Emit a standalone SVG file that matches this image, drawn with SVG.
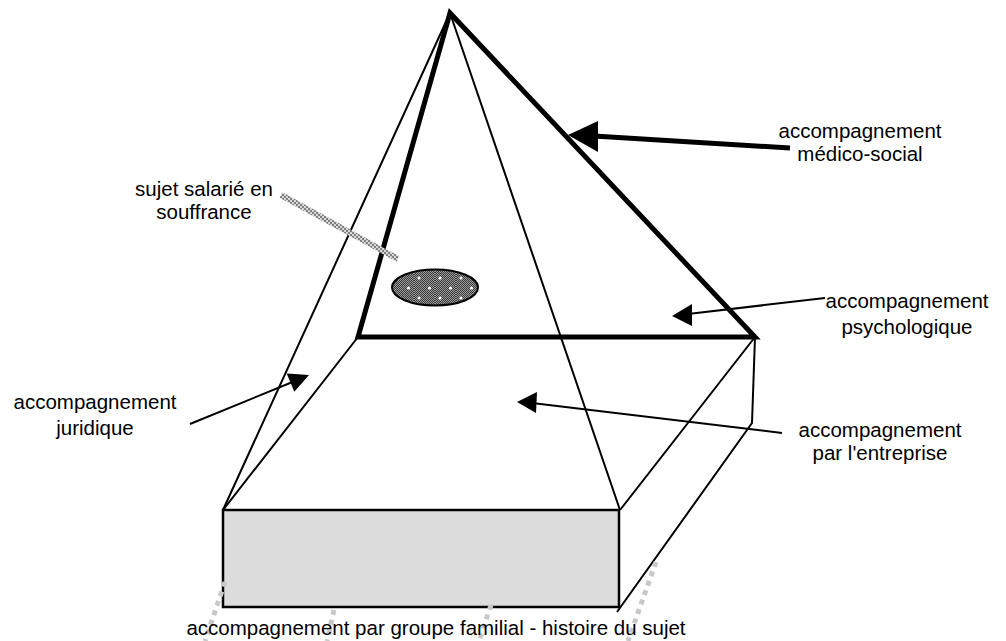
<svg xmlns="http://www.w3.org/2000/svg" width="1006" height="641" viewBox="0 0 1006 641">
<defs>
<style>
text{font-family:"Liberation Sans",Arial,sans-serif;font-size:20.5px;fill:#000;text-anchor:middle}
.thin{stroke:#000;stroke-width:2;fill:none}
.thick{stroke:#000;stroke-width:5;fill:none;stroke-linejoin:miter}
.dot{stroke:#c8c8c8;stroke-width:5;stroke-dasharray:5 5;fill:none}
.arr{stroke:#000;stroke-width:2;fill:none}
</style>
<pattern id="chk" width="4" height="4" patternUnits="userSpaceOnUse">
<rect width="4" height="4" fill="#d8d8d8"/>
<rect width="2" height="2" fill="#808080"/>
<rect x="2" y="2" width="2" height="2" fill="#808080"/>
</pattern>
<pattern id="chk2" width="2" height="2" patternUnits="userSpaceOnUse">
<rect width="2" height="2" fill="#9a9a9a"/>
<rect width="1" height="1" fill="#3a3a3a"/>
<rect x="1" y="1" width="1" height="1" fill="#3a3a3a"/>
</pattern>
<pattern id="ell" width="21" height="20" patternUnits="userSpaceOnUse" x="393" y="274">
<rect width="21" height="20" fill="url(#chk2)"/>
<circle cx="5" cy="4" r="1.5" fill="#fff"/>
<circle cx="15.5" cy="14" r="1.5" fill="#fff"/>
</pattern>
</defs>
<rect width="1006" height="641" fill="#fff"/>

<g id="box">
<rect x="223" y="510" width="396" height="97" fill="#dcdcdc" stroke="#000" stroke-width="2.5"/>
<path class="thin" d="M358 337 L223 510 M755 337 L620 510 M755 337 L752 423 L617 612"/>
</g>

<g id="pyramid">
<path class="thin" d="M450 13 L223 510 M450 13 L620 510"/>
<path class="thick" d="M450 13 L358 337 L755 337 Z"/>
</g>

<g id="sujet">
<line x1="281" y1="195" x2="398" y2="259" stroke="url(#chk)" stroke-width="6"/>
<ellipse cx="435" cy="287.5" rx="43" ry="18" fill="url(#ell)" stroke="#000" stroke-width="2"/>
<text x="204" y="196">sujet salarié en</text>
<text x="204" y="219">souffrance</text>
</g>

<g id="connectors">
<line x1="790" y1="148" x2="594" y2="136" stroke="#000" stroke-width="5"/>
<polygon points="568,135 598,121 598,152" fill="#000"/>
<line class="arr" x1="825" y1="298" x2="688" y2="314"/>
<polygon points="672,316 692,304 692,326" fill="#000"/>
<line class="arr" x1="190" y1="424" x2="295" y2="381"/>
<polygon points="309,375 286.7,373.4 294.3,391.8" fill="#000"/>
<line class="arr" x1="782" y1="433" x2="532" y2="403"/>
<polygon points="517,402 537,392 536,413" fill="#000"/>
<path class="dot" d="M225 582 L205 641 M334 610 L327 641 M491 605 L479 641 M656 562 L628 641"/>
</g>

<g id="medico">
<text x="860" y="138">accompagnement</text>
<text x="860" y="161">médico-social</text>
</g>
<g id="psycho">
<text x="907" y="308">accompagnement</text>
<text x="907" y="334">psychologique</text>
</g>
<g id="juridique">
<text x="95" y="409">accompagnement</text>
<text x="95" y="435">juridique</text>
</g>
<g id="entreprise">
<text x="880" y="437">accompagnement</text>
<text x="880" y="460">par l'entreprise</text>
</g>
<g id="famille">
<text x="436" y="635">accompagnement par groupe familial - histoire du sujet</text>
</g>
</svg>
